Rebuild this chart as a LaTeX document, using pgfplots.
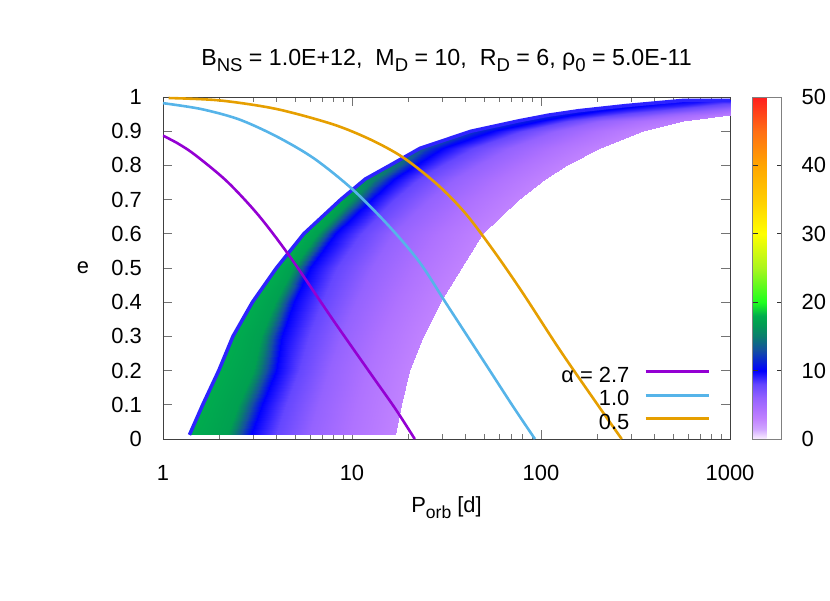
\documentclass[border=0pt]{standalone}
\usepackage{pgfplots}
\pgfplotsset{compat=1.18}
\usepackage{fontspec}
\setmainfont{Liberation Sans}
\newcommand{\fs}{\fontsize{22}{26}\selectfont}
\newcommand{\tfs}{\fontsize{23.3}{27}\selectfont}
\newcommand{\sub}[1]{\raisebox{-0.3em}{\fontsize{17.6}{18}\selectfont #1}}
\newcommand{\tsub}[1]{\raisebox{-0.3em}{\fontsize{18.6}{19}\selectfont #1}}
\definecolor{gpPurple}{RGB}{148,0,211}
\definecolor{gpBlue}{RGB}{86,180,233}
\definecolor{gpOrange}{RGB}{230,159,0}
\definecolor{rimcol}{RGB}{45,35,255}
\begin{document}
\begin{tikzpicture}
\useasboundingbox (-163bp,-162bp) rectangle (667bp,439bp);
\begin{axis}[
  at={(0,0)}, anchor=south west,
  scale only axis, width=567bp, height=342bp,
  xmode=log, xmin=1, xmax=1000, ymin=0, ymax=1,
  xtick={1,10,100,1000}, xticklabels={1,10,100,1000},
  ytick={0,0.1,0.2,0.3,0.4,0.5,0.6,0.7,0.8,0.9,1},
  yticklabels={0,0.1,0.2,0.3,0.4,0.5,0.6,0.7,0.8,0.9,1},
  tick align=inside, xtick pos=both, ytick pos=both,
  major tick length=9bp, minor tick length=5bp,
  axis line style={black!75, line width=0.9bp},
  every tick/.style={black!55, line width=0.9bp},
  tick label style={font=\fs},
  xticklabel style={anchor=base, yshift=-41bp, inner sep=0pt},
  yticklabel style={anchor=east, xshift=-21bp, inner sep=0pt},
  title={B\tsub{NS} = 1.0E+12,\ \ M\tsub{D} = 10,\ \ R\tsub{D} = 6, ρ\tsub{0} = 5.0E-11},
  title style={at={(0.5,1)}, anchor=base, yshift=26bp, font=\tfs, inner sep=0pt},
  xlabel={P\sub{orb} [d]},
  xlabel style={at={(0.5,0)}, anchor=base, yshift=-73bp, inner sep=0pt, font=\fs},
  ylabel={e},
  ylabel style={at={(0,0.5)}, anchor=center, rotate=-90, xshift=-80bp, inner sep=0pt, font=\fs},
  colormap={gp}{rgb255(0pt)=(250,240,255) rgb255(1.5pt)=(208,165,255) rgb255(3pt)=(192,130,255) rgb255(4.5pt)=(172,112,255) rgb255(6pt)=(148,98,255) rgb255(8pt)=(100,70,255) rgb255(10pt)=(0,0,255) rgb255(13pt)=(20,80,160) rgb255(15pt)=(10,125,110) rgb255(17pt)=(0,160,80) rgb255(18pt)=(0,172,78) rgb255(20pt)=(30,255,30) rgb255(25pt)=(170,245,30) rgb255(30pt)=(255,255,0) rgb255(35pt)=(255,205,0) rgb255(40pt)=(255,165,0) rgb255(45pt)=(255,110,20) rgb255(50pt)=(255,30,30)},
  point meta min=0, point meta max=50,
  colorbar,
  colorbar style={
    at={(parent axis.north east)}, anchor=north west, xshift=14bp,
    scale only axis, width=29bp, height=342bp,
    ytick={0,10,20,30,40,50}, yticklabels={0,10,20,30,40,50},
    ytick pos=both, yticklabel pos=right,
    tick align=inside, major tick length=5bp,
    every tick/.style={black!80, line width=0.9bp},
    axis line style={black!50, line width=0.8bp},
    yticklabel style={anchor=west, xshift=20bp, inner sep=0pt, font=\fs},
  },
  legend style={at={(rel axis cs:1,0)}, anchor=south east, xshift=-20bp, yshift=10bp,
    draw=none, fill=none, inner sep=0pt, outer sep=0pt, row sep=8bp, column sep=15bp, font=\fs,
    nodes={inner sep=0pt, text depth=0pt, text height=15.5bp}},
  legend cell align=right, legend plot pos=right,
  legend image code/.code={\draw[#1] (0bp,2.5bp) -- (63bp,2.5bp);},
]
\addplot[surf, shader=interp, mesh/cols=7, mesh/rows=17, point meta=explicit, forget plot]
table[x=P, y=e, meta=v] {
P e v
1.380 0.012 18
2.168 0.012 17
2.931 0.012 10
3.963 0.012 8
5.916 0.012 6
9.772 0.012 4.3
16.98 0.012 3
1.622 0.1 18
2.506 0.1 17
3.350 0.1 10
4.477 0.1 8
6.592 0.1 6
10.69 0.1 4.3
18.20 0.1 3
1.972 0.2 18
2.992 0.2 17
3.954 0.2 10
5.212 0.2 8
7.551 0.2 6
11.99 0.2 4.3
19.95 0.2 3
2.344 0.3 18
3.319 0.3 17
4.276 0.3 10
5.916 0.3 8
8.770 0.3 6
14.26 0.3 4.3
23.71 0.3 3
2.972 0.4 18
3.908 0.4 17
4.909 0.4 10
6.918 0.4 8
10.45 0.4 6
17.26 0.4 4.3
29.17 0.4 3
3.981 0.5 18
4.875 0.5 17
5.970 0.5 10
8.356 0.5 8
12.79 0.5 6
21.93 0.5 4.3
37.58 0.5 3
5.559 0.6 18
6.546 0.6 17
8.128 0.6 10
11.14 0.6 8
16.50 0.6 6
28.44 0.6 4.3
48.98 0.6 3
8.710 0.7 17.5
9.917 0.7 16.5
12.59 0.7 10
16.67 0.7 8
25.70 0.7 6
44.16 0.7 4.3
75.86 0.7 3
11.75 0.76 16
13.24 0.76 15
16.67 0.76 10
22.65 0.76 8
35.08 0.76 6
60.60 0.76 4.3
104.7 0.76 3
15.85 0.8 15
17.66 0.8 14
21.93 0.8 10
30.34 0.8 8
46.77 0.8 6
80.35 0.8 4.3
138.0 0.8 3
22.91 0.85 13.5
25.00 0.85 12.5
30.45 0.85 10
44.16 0.85 8
68.39 0.85 6
118.1 0.85 4.3
204.2 0.85 3
42.66 0.9 12.5
46.38 0.9 11.5
56.02 0.9 10
79.98 0.9 8
121.6 0.9 6
205.4 0.9 4.3
346.7 0.9 3
75.86 0.93 12
82.22 0.93 11
98.40 0.93 10
138.4 0.93 8
206.5 0.93 6
340.8 0.93 4.5
562.3 0.93 3.5
109.6 0.947 11.5
119.7 0.947 11
146.2 0.947 10
212.8 0.947 8.5
331.1 0.947 7
575.4 0.947 5
1000 0.947 3.5
158.5 0.96 11
170.6 0.96 10.5
201.4 0.96 10
275.4 0.96 9
398.1 0.96 8
631.0 0.96 6.5
1000 0.96 5
281.8 0.975 10.5
296.5 0.975 10.5
332.3 0.975 10
412.1 0.975 9.5
530.9 0.975 9
728.8 0.975 8
1000 0.975 7
562.3 0.99 10
575.4 0.99 10
606.1 0.99 10
668.3 0.99 10
749.9 0.99 10
866.0 0.99 9.5
1000 0.99 9.5
};
\addplot[rimcol, line width=3.5bp, line join=round, forget plot] coordinates {
(1.380,0.012) (1.622,0.1) (1.972,0.2) (2.344,0.3) (2.972,0.4) (3.981,0.5)
(5.559,0.6) (8.710,0.7) (11.75,0.76) (15.85,0.8) (22.91,0.85) (42.66,0.9)
(75.86,0.93) (109.6,0.947) (158.5,0.96) (281.8,0.975) (562.3,0.99) (1000,0.99)};
\addplot[gpPurple, line width=2.6bp, smooth] coordinates {
(1,0.887) (1.2,0.864) (1.476,0.831) (2.173,0.754) (3.192,0.655) (4.699,0.533)
(7.943,0.348) (12.59,0.19) (16.98,0.088) (21.48,0.0)};
\addlegendentry{α = 2.7}
\addplot[gpBlue, line width=2.6bp, smooth] coordinates {
(1,0.982) (1.585,0.965) (2.512,0.935) (3.981,0.885) (6.310,0.82) (10.16,0.728)
(15.85,0.62) (22.91,0.515) (31.62,0.395) (50.12,0.225) (70.79,0.097) (92.9,0.0)};
\addlegendentry{1.0}
\addplot[gpOrange, line width=2.6bp, smooth] coordinates {
(1.07,0.997) (1.995,0.99) (3.981,0.965) (7.943,0.92) (12.59,0.875) (18.66,0.823)
(28.18,0.745) (39.81,0.66) (56.23,0.55) (79.43,0.43) (125.9,0.26) (199.5,0.10) (267.3,0.0)};
\addlegendentry{0.5}
\end{axis}
\end{tikzpicture}
\end{document}
